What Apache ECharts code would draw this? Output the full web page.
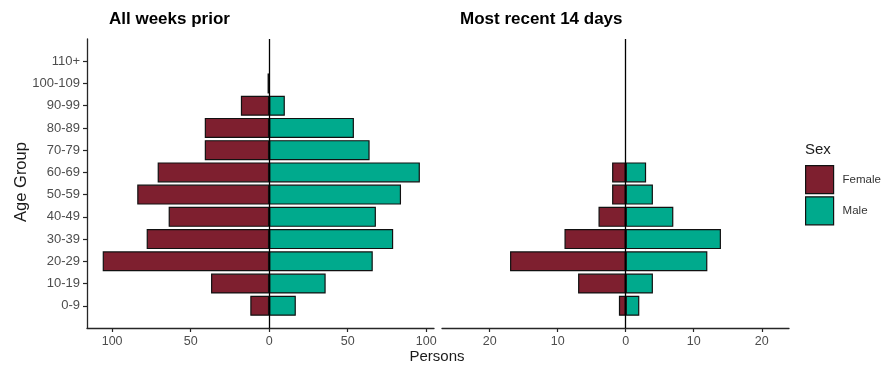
<!DOCTYPE html>
<html>
<head>
<meta charset="utf-8">
<script src="https://cdn.jsdelivr.net/npm/echarts@6/dist/echarts.min.js"></script>
<style>
html,body{margin:0;padding:0;background:#fff;}
#chart{width:887px;height:370px;}
</style>
</head>
<body>
<div id="chart"></div>
<script>
const categories = ['0-9','10-19','20-29','30-39','40-49','50-59','60-69','70-79','80-89','90-99','100-109','110+'];
const femaleAllWeeks = [12, 37, 106, 78, 64, 84, 71, 41, 41, 18, 1, 0];
const maleAllWeeks   = [17, 36, 66, 79, 68, 84, 96, 64, 54, 10, 0, 0];
const femaleRecent   = [1, 7, 17, 9, 4, 2, 2, 0, 0, 0, 0, 0];
const maleRecent     = [2, 4, 12, 14, 7, 4, 3, 0, 0, 0, 0, 0];
const leftTicks  = [-100, -50, 0, 50, 100];
const rightTicks = [-20, -10, 0, 10, 20];

const FONT = 'Liberation Sans, Arial, sans-serif';
const FEMALE = '#7e1f2f';
const MALE = '#00aa8d';
const AXIS = '#262626';

const padCats = [''].concat(categories, ['']);
const pad = arr => [null].concat(arr.map(v => (v === 0 ? null : v)), [null]);
const neg = arr => arr.map(v => -v);

function xAxisFor(grid, min, max, ticks) {
  return {
    type: 'value', gridIndex: grid, min: min, max: max,
    splitLine: {show: false},
    axisLine: {show: true, onZero: false, lineStyle: {color: AXIS, width: 1.3}},
    axisTick: {show: true, length: 4, lineStyle: {color: AXIS, width: 1.2}, customValues: ticks},
    axisLabel: {color: '#4d4d4d', fontSize: 12.5, fontFamily: FONT, margin: 7,
      customValues: ticks, formatter: v => String(Math.abs(v))}
  };
}

const zeroLine = {
  symbol: 'none', silent: true, label: {show: false},
  lineStyle: {color: '#000', width: 1.3, type: 'solid'},
  emphasis: {disabled: true},
  data: [{xAxis: 0}]
};

function barSeries(name, data, xi, color, withLine) {
  const s = {
    name: name, type: 'bar', xAxisIndex: xi, yAxisIndex: xi,
    data: pad(data), barGap: '-100%', barCategoryGap: '10%',
    itemStyle: {color: color, borderColor: '#111', borderWidth: 1.2},
    emphasis: {disabled: true}, silent: true
  };
  if (withLine) s.markLine = zeroLine;
  return s;
}

const chart = echarts.init(document.getElementById('chart'));
chart.setOption({
  animation: false,
  backgroundColor: '#fff',
  title: [
    {text: 'All weeks prior', left: 109, top: 11, padding: 0,
     textStyle: {fontSize: 17, fontWeight: 'bold', color: '#000', fontFamily: FONT}},
    {text: 'Most recent 14 days', left: 460, top: 11, padding: 0,
     textStyle: {fontSize: 17, fontWeight: 'bold', color: '#000', fontFamily: FONT}}
  ],
  legend: {
    orient: 'vertical', left: 805, top: 165, itemWidth: 28, itemHeight: 28, itemGap: 2,
    icon: 'rect', padding: 0,
    data: [
      {name: 'Female', itemStyle: {color: FEMALE, borderColor: '#111', borderWidth: 1.2}},
      {name: 'Male', itemStyle: {color: MALE, borderColor: '#111', borderWidth: 1.2}}
    ],
    textStyle: {fontSize: 11.5, color: '#333', fontFamily: FONT, padding: [0, 0, 0, 4]},
    selectedMode: false
  },
  graphic: [
    {type: 'text', x: 437, y: 357, silent: true,
     style: {text: 'Persons', fontSize: 15, fontFamily: FONT, fill: '#1a1a1a', align: 'center', verticalAlign: 'middle'}},
    {type: 'text', x: 21, y: 182, rotation: Math.PI / 2, silent: true,
     style: {text: 'Age Group', fontSize: 16.5, fontFamily: FONT, fill: '#1a1a1a', align: 'center', verticalAlign: 'middle'}},
    {type: 'text', x: 805, y: 150, silent: true,
     style: {text: 'Sex', fontSize: 15, fontFamily: FONT, fill: '#1a1a1a', align: 'left', verticalAlign: 'middle'}}
  ],
  grid: [
    {left: 87, top: 39, width: 347, height: 289},
    {left: 442, top: 39, width: 347, height: 289}
  ],
  xAxis: [
    xAxisFor(0, -116, 105, leftTicks),
    xAxisFor(1, -27, 24, rightTicks)
  ],
  yAxis: [
    {type: 'category', gridIndex: 0, data: padCats, boundaryGap: false,
     axisLine: {show: true, onZero: false, lineStyle: {color: AXIS, width: 1.3}},
     axisTick: {show: true, length: 4, lineStyle: {color: AXIS, width: 1.2},
       interval: (i, v) => v !== ''},
     axisLabel: {interval: 0, color: '#4d4d4d', fontSize: 13, fontFamily: FONT, margin: 7},
     splitLine: {show: false}},
    {type: 'category', gridIndex: 1, data: padCats, boundaryGap: false,
     axisLine: {show: false, onZero: false}, axisTick: {show: false}, axisLabel: {show: false},
     splitLine: {show: false}}
  ],
  series: [
    barSeries('Female', neg(femaleAllWeeks), 0, FEMALE, false),
    barSeries('Male', maleAllWeeks, 0, MALE, true),
    barSeries('Female', neg(femaleRecent), 1, FEMALE, false),
    barSeries('Male', maleRecent, 1, MALE, true)
  ]
});
</script>
</body>
</html>
